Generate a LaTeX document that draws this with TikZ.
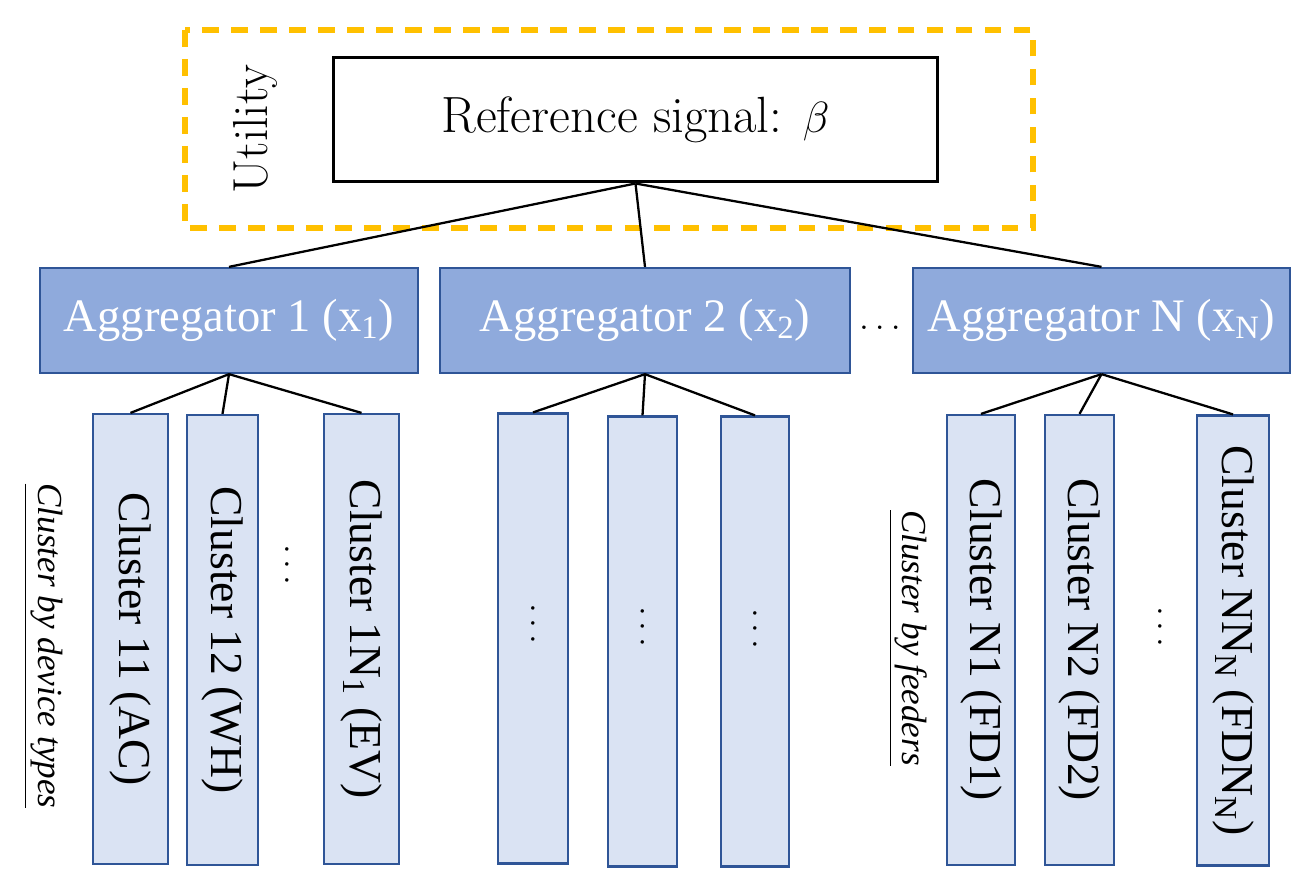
\documentclass[tikz,border=0pt]{standalone}
\usepackage{amsmath,amssymb}
\usepackage{fontspec}
\newfontfamily\timesf{Liberation Serif}
\definecolor{orng}{HTML}{FFC000}
\definecolor{aggfill}{HTML}{8FAADC}
\definecolor{clufill}{HTML}{DAE3F3}
\definecolor{bord}{HTML}{2F5597}
\begin{document}
\begin{tikzpicture}[x=0.02cm,y=-0.02cm,
  refbox/.style={draw,line width=1.7pt,minimum width=12.1cm,minimum height=2.5cm,font=\fontsize{29}{34}\selectfont},
  aggbox/.style={draw=bord,line width=1.3pt,fill=aggfill,text=white,minimum height=2.1cm,font=\timesf\fontsize{26.5}{30}\selectfont},
  clubox/.style={draw=bord,line width=1.3pt,fill=clufill,minimum width=1.42cm,minimum height=9cm},
  clutext/.style={rotate=-90,font=\timesf\fontsize{26}{30}\selectfont},
  sidelab/.style={rotate=-90,font=\timesf\itshape\fontsize{20}{24}\selectfont},
  dotsv/.style={rotate=-90,font=\fontsize{21}{25}\selectfont},
  wire/.style={line width=1.3pt}]
\useasboundingbox(0,0)rectangle(1292,869);
% utility layer
\draw[orng,line width=3.2pt,dash pattern=on 9.5pt off 7pt](185,30)rectangle(1033,228);
\node[rotate=90,font=\fontsize{28}{33}\selectfont] (util) at (255,129) {Utility};
\node[refbox] (ref) at (635.5,119.5) {Reference signal: $\beta$};
% aggregators
\node[aggbox,minimum width=7.56cm] (agg1) at (229,320.5) {Aggregator 1 (x\textsubscript{1})};
\node[aggbox,minimum width=8.2cm] (agg2) at (645,320.5) {Aggregator 2 (x\textsubscript{2})};
\node[aggbox,minimum width=7.54cm] (aggN) at (1101.5,320.5) {Aggregator N (x\textsubscript{N})};
\node[font=\fontsize{21}{25}\selectfont] (hdots) at (880,328) {$\ldots$};
\draw[wire](ref.south)--(agg1.north);
\draw[wire](ref.south)--(agg2.north);
\draw[wire](ref.south)--(aggN.north);
% clusters of aggregator 1
\node[clubox,minimum width=1.5cm] (c11) at (130.5,639) {};
\node[clubox] (c12) at (222.5,640) {};
\node[clubox,minimum width=1.5cm] (c1N) at (361.5,639) {};
\node[clutext] (t11) at (c11) {Cluster 11 (AC)};
\node[clutext] (t12) at (c12) {Cluster 12 (WH)};
\node[clutext] (t1N) at (c1N) {Cluster 1N\textsubscript{1} (EV)};
\node[dotsv] (d1) at (287,565) {$\ldots$};
\node[sidelab] (lab1) at (43,646) {\underline{Cluster by device types}};
\foreach \c in {c11,c12,c1N}\draw[wire](agg1.south)--(\c.north);
% clusters of aggregator 2
\node[clubox,minimum width=1.4cm] (c21) at (533,638.5) {};
\node[clubox,minimum width=1.38cm] (c22) at (642.5,641.5) {};
\node[clubox,minimum width=1.36cm] (c23) at (755,641.5) {};
\node[dotsv] (d21) at (533,624) {$\ldots$};
\node[dotsv] (d22) at (642.5,627) {$\ldots$};
\node[dotsv] (d23) at (755,629) {$\ldots$};
\foreach \c in {c21,c22,c23}\draw[wire](agg2.south)--(\c.north);
% clusters of aggregator N
\node[clubox,minimum width=1.36cm] (cN1) at (981,640) {};
\node[clubox,minimum width=1.38cm] (cN2) at (1079.5,640) {};
\node[clubox,minimum width=1.44cm] (cNN) at (1233,640.5) {};
\node[clutext] (tN1) at (cN1) {Cluster N1 (FD1)};
\node[clutext] (tN2) at (cN2) {Cluster N2 (FD2)};
\node[clutext] (tNN) at (cNN) {Cluster NN\textsubscript{N} (FDN\textsubscript{N})};
\node[dotsv] (dN) at (1160,627) {$\ldots$};
\node[sidelab] (labN) at (908,638) {\underline{Cluster by feeders}};
\foreach \c in {cN1,cN2,cNN}\draw[wire](aggN.south)--(\c.north);
\end{tikzpicture}
\end{document}
